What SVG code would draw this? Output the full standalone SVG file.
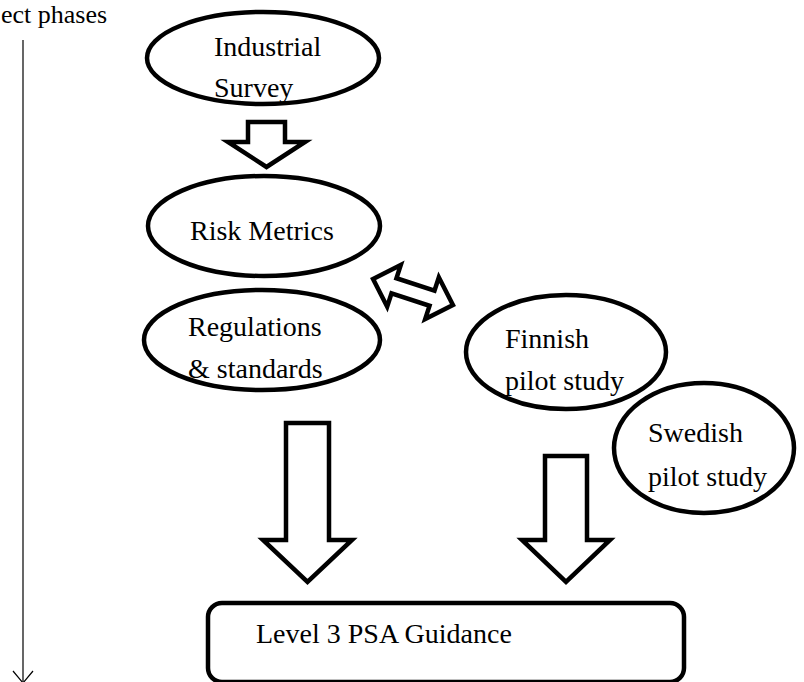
<svg xmlns="http://www.w3.org/2000/svg" width="804" height="682" viewBox="0 0 804 682">
  <style>
    text { font-family: "Liberation Serif", "Times New Roman", serif; font-size: 28px; fill: #000; }
    .node { fill: #fff; stroke: #000; stroke-width: 4.5; }
    .block { fill: #fff; stroke: #000; stroke-width: 4.5; stroke-linejoin: miter; }
    .axis { fill: none; stroke: #000; stroke-width: 1.2; }
  </style>

  <!-- timeline axis -->
  <g id="phases">
    <text x="1" y="23" style="font-size:26px">ect phases</text>
    <line class="axis" x1="23" y1="40" x2="23" y2="682"/>
    <polyline class="axis" points="13,671 23,683 33,671"/>
  </g>

  <g id="industrial-survey">
    <ellipse class="node" cx="263" cy="58" rx="116" ry="46"/>
    <text x="214" y="56">Industrial</text>
    <text x="214" y="97">Survey</text>
  </g>

  <g id="risk-metrics">
    <ellipse class="node" cx="264" cy="226" rx="116" ry="50"/>
    <text x="190" y="240">Risk Metrics</text>
  </g>

  <g id="regulations">
    <ellipse class="node" cx="262" cy="340" rx="118" ry="50"/>
    <text x="188" y="336">Regulations</text>
    <text x="188" y="378">&amp; standards</text>
  </g>

  <g id="finnish-pilot">
    <ellipse class="node" cx="566" cy="352" rx="100" ry="57"/>
    <text x="505" y="348">Finnish</text>
    <text x="505" y="390">pilot study</text>
  </g>

  <g id="swedish-pilot">
    <ellipse class="node" cx="704" cy="448" rx="90" ry="65"/>
    <text x="648" y="442">Swedish</text>
    <text x="648" y="486">pilot study</text>
  </g>

  <g id="guidance">
    <rect class="node" x="208" y="603" width="476" height="79" rx="14" ry="14"/>
    <text x="256" y="643">Level 3 PSA Guidance</text>
  </g>

  <!-- block arrows between the phases -->
  <g id="connectors">
    <polygon class="block" points="248,122 285,122 285,142 305,142 266.5,167 228,142 248,142"/>
    <polygon class="block" points="371,292 393,270 393,284 433,284 433,270 455,292 433,314 433,300 393,300 393,314" transform="rotate(18 413 292)"/>
    <polygon class="block" points="286,423 329,423 329,540 352,540 307.5,582 263,540 286,540"/>
    <polygon class="block" points="545,456 587,456 587,540 610,540 566,582 522,540 545,540"/>
  </g>
</svg>
